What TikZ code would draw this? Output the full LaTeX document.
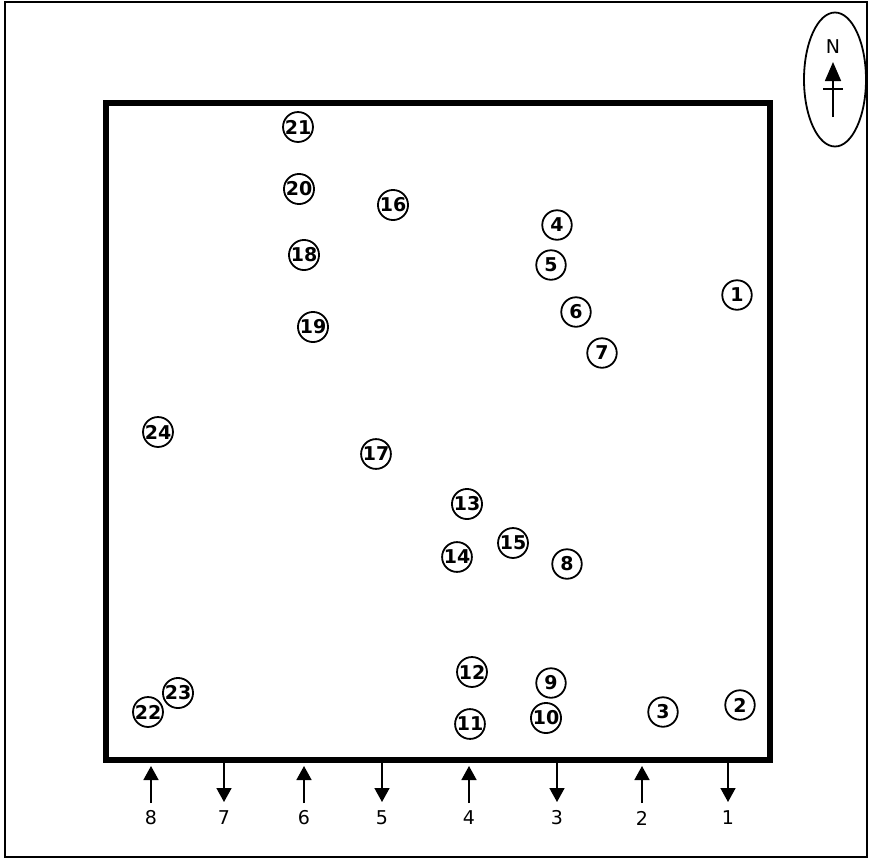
\documentclass[tikz,border=0pt]{standalone}
\usepackage{fontspec}
\setmainfont{DejaVu Sans}
\usetikzlibrary{arrows.meta}
\newcommand{\sitefont}{\fontsize{19}{19}\selectfont\bfseries}
\newcommand{\lblfont}{\fontsize{19}{19}\selectfont}
\begin{document}
\begin{tikzpicture}[x=1pt,y=-1pt,
  site/.style={circle,draw,line width=1.8pt,minimum size=29.5pt,inner sep=0pt,font=\sitefont},
  lab/.style={font=\lblfont,inner sep=0pt},
  flow/.style={line width=1.6pt,-{Triangle[width=15pt,length=14pt]}},
  frame/.style={line width=2.2pt},
  plot/.style={line width=6pt}]
\useasboundingbox (0,0) rectangle (870,860);
\draw[frame] (5,2) rectangle (867,857);
\draw[plot] (106,103) rectangle (770,760);
% north arrow
\draw[line width=1.8pt] (835,79.5) ellipse [x radius=31, y radius=67];
\node[lab] (N) at (833,47) {N};
\coordinate (nb) at (833,117);
\coordinate (nt) at (833,62);
\draw[line width=1.6pt,-{Triangle[width=16pt,length=19pt]}] (nb) -- (nt);
\coordinate (cl) at (823,89);
\coordinate (cr) at (843,89);
\draw[line width=1.6pt] (cl) -- (cr);
% sites
\node[site] (s1) at (737,295) {1};
\node[site] (s2) at (740,705) {2};
\node[site] (s3) at (663,712) {3};
\node[site] (s4) at (557,225) {4};
\node[site] (s5) at (551,265) {5};
\node[site] (s6) at (576,312) {6};
\node[site] (s7) at (602,353) {7};
\node[site] (s8) at (567,564) {8};
\node[site] (s9) at (551,683) {9};
\node[site] (s10) at (546,718) {10};
\node[site] (s11) at (470,724) {11};
\node[site] (s12) at (472,672) {12};
\node[site] (s13) at (467,504) {13};
\node[site] (s14) at (457,557) {14};
\node[site] (s15) at (513,543) {15};
\node[site] (s16) at (393,205) {16};
\node[site] (s17) at (376,454) {17};
\node[site] (s18) at (304,255) {18};
\node[site] (s19) at (313,327) {19};
\node[site] (s20) at (299,189) {20};
\node[site] (s21) at (298,127) {21};
\node[site] (s22) at (148,712) {22};
\node[site] (s23) at (178,693) {23};
\node[site] (s24) at (158,432) {24};
% flow arrows and labels
\foreach \n/\x/\d in {8/151/u,7/224/d,6/304/u,5/382/d,4/469/u,3/557/d,2/642/u,1/728/d}{
  \node[lab] (l\n) at (\x,818) {\n};
  \if\d u
    \coordinate (a\n) at (\x,803);
    \coordinate (b\n) at (\x,766);
  \else
    \coordinate (a\n) at (\x,763);
    \coordinate (b\n) at (\x,802);
  \fi
  \draw[flow] (a\n) -- (b\n);
}
\end{tikzpicture}
\end{document}
